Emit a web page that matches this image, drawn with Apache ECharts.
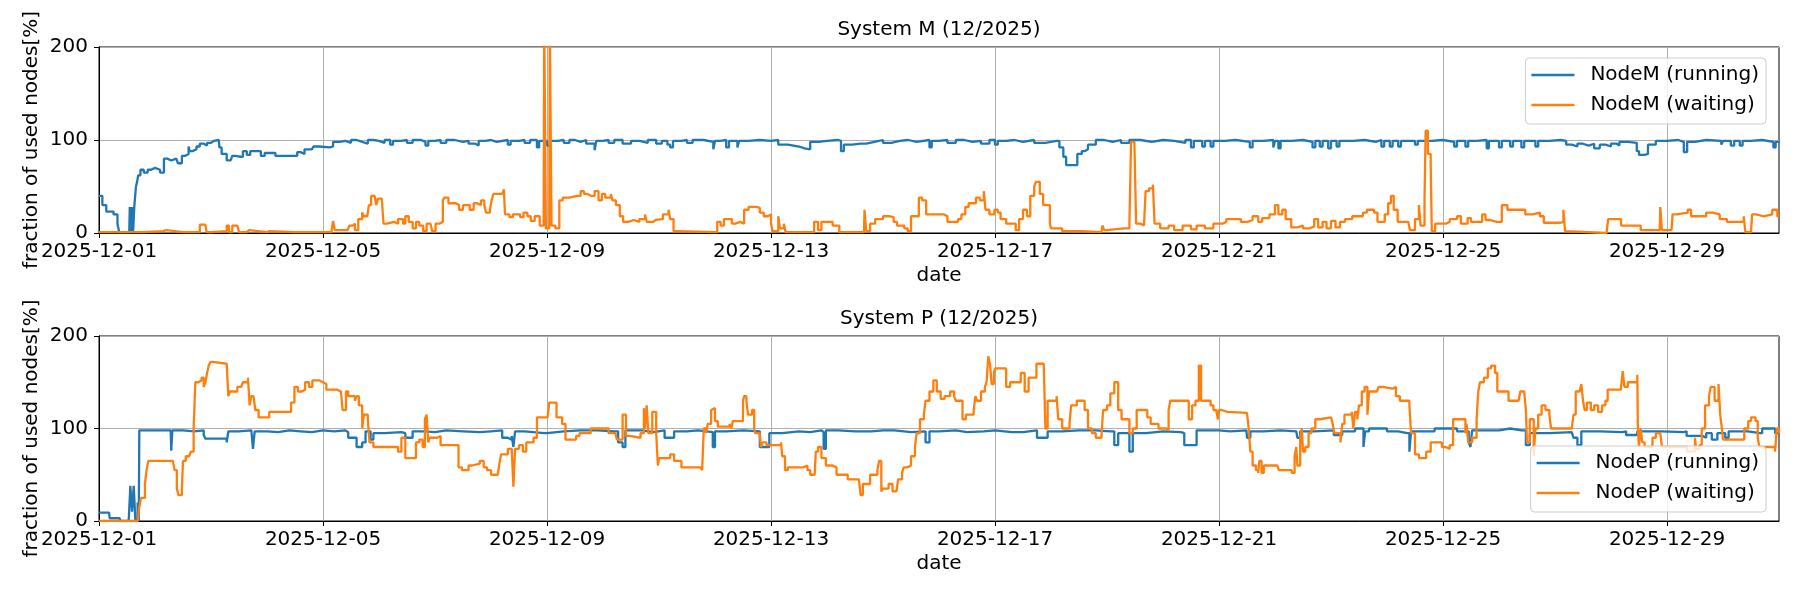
<!DOCTYPE html>
<html>
<head>
<meta charset="utf-8">
<script src="https://cdn.jsdelivr.net/npm/echarts@6/dist/echarts.min.js"></script>
<style>
html,body{margin:0;padding:0;background:#fff;}
#chart{width:1800px;height:600px;}
</style>
</head>
<body>
<div id="chart"></div>
<script>
// x values are days since 2025-12-01 00:00
const tickDays = [0, 4, 8, 12, 16, 20, 24, 28];
const tickLabels = ['2025-12-01','2025-12-05','2025-12-09','2025-12-13','2025-12-17','2025-12-21','2025-12-25','2025-12-29'];
const yTicks = [0, 100, 200];

const titleM = 'System M (12/2025)';
const titleP = 'System P (12/2025)';
const namesM = ['NodeM (running)', 'NodeM (waiting)'];
const namesP = ['NodeP (running)', 'NodeP (waiting)'];

const mRunning = [[0,40],[0.06,30],[0.13,23],[0.22,23],[0.26,20],[0.33,10],[0.36,1],[0.54,1],[0.55,28],[0.57,2],[0.59,28],[0.61,2],[0.63,28],[0.66,50],[0.68,55],[0.7,62],[0.74,68],[0.8,65],[0.87,68],[0.93,70],[1.0,68],[1.09,65],[1.16,80],[1.22,78],[1.29,80],[1.38,80],[1.41,75],[1.48,83],[1.54,85],[1.6,93],[1.62,88],[1.67,90],[1.74,93],[1.8,96],[1.87,94],[1.93,97],[2.0,99],[2.05,100],[2.14,100],[2.15,92],[2.19,85],[2.28,78],[2.35,78],[2.38,83],[2.44,82],[2.51,82],[2.57,88],[2.64,84],[2.7,88],[2.83,88],[2.89,83],[2.96,86],[3.09,86],[3.15,83],[3.47,83],[3.54,87],[3.6,85],[3.67,90],[3.8,90],[3.83,93],[3.93,92],[4.12,93],[4.18,98],[4.3,99],[4.4,97],[4.5,100],[4.6,98],[4.7,96],[4.8,100],[4.9,99],[5.0,97],[5.1,100],[5.2,95],[5.25,99],[5.4,100],[5.5,97],[5.6,100],[5.75,98],[5.83,94],[5.88,99],[6.0,100],[6.1,97],[6.2,100],[6.35,98],[6.5,99],[6.6,96],[6.72,94],[6.78,99],[6.9,100],[7.0,98],[7.1,100],[7.3,95],[7.35,99],[7.5,100],[7.6,97],[7.7,100],[7.82,92],[7.86,99],[8.0,94],[8.05,99],[8.2,100],[8.3,97],[8.4,100],[8.5,98],[8.6,100],[8.7,96],[8.85,89],[8.88,99],[9.0,100],[9.1,97],[9.2,100],[9.35,96],[9.5,99],[9.65,97],[9.8,100],[9.95,96],[10.05,99],[10.15,95],[10.2,92],[10.25,99],[10.4,100],[10.5,97],[10.6,100],[10.8,98],[10.97,90],[11.0,99],[11.1,100],[11.2,92],[11.25,99],[11.4,92],[11.43,99],[11.6,100],[11.8,99],[12.0,100],[12.13,95],[12.3,93],[12.5,91],[12.6,90],[12.7,98],[12.85,99],[13.0,100],[13.2,99],[13.25,88],[13.3,95],[13.45,96],[13.6,96],[13.7,98],[13.85,100],[14.0,97],[14.15,99],[14.3,100],[14.45,98],[14.6,100],[14.83,92],[14.87,99],[15.0,100],[15.15,97],[15.3,100],[15.45,98],[15.6,99],[15.75,96],[15.9,100],[16.0,95],[16.05,99],[16.2,100],[16.35,98],[16.5,100],[16.7,97],[16.9,99],[17.1,99],[17.15,92],[17.22,82],[17.27,73],[17.4,73],[17.47,85],[17.55,88],[17.6,90],[17.66,95],[17.8,100],[17.95,98],[18.1,100],[18.25,97],[18.4,100],[18.6,98],[18.8,100],[19.0,99],[19.2,97],[19.4,100],[19.5,92],[19.55,99],[19.7,93],[19.75,99],[19.85,93],[19.9,99],[20.1,100],[20.3,98],[20.55,92],[20.6,99],[20.8,100],[20.97,92],[21.0,99],[21.06,91],[21.1,99],[21.3,100],[21.5,98],[21.67,92],[21.72,99],[21.8,93],[21.85,99],[21.95,91],[22.0,99],[22.1,93],[22.15,99],[22.4,100],[22.6,98],[22.8,100],[22.9,93],[22.95,99],[23.05,93],[23.1,99],[23.2,93],[23.25,99],[23.5,95],[23.55,99],[23.8,100],[24.0,98],[24.2,93],[24.25,99],[24.4,93],[24.45,99],[24.6,100],[24.78,91],[24.82,99],[25.0,92],[25.05,99],[25.2,93],[25.25,99],[25.4,92],[25.45,99],[25.65,93],[25.7,99],[25.9,100],[26.1,99],[26.2,95],[26.3,93],[26.4,96],[26.5,94],[26.6,96],[26.7,91],[26.8,95],[26.9,93],[27.0,96],[27.1,94],[27.15,98],[27.3,97],[27.46,88],[27.5,84],[27.6,85],[27.66,95],[27.8,99],[28.0,100],[28.2,98],[28.3,87],[28.36,98],[28.5,100],[28.7,99],[28.97,95],[29.0,99],[29.14,94],[29.2,99],[29.3,94],[29.35,99],[29.5,100],[29.7,98],[29.9,92],[29.94,98],[30,99]];

const mWaiting = [[0,1],[0.5,1],[0.8,2],[1.15,1],[1.16,3],[1.2,1],[1.5,1],[1.8,9],[1.9,10],[1.92,1],[2.0,2],[2.28,8],[2.32,1],[2.38,8],[2.47,8],[2.5,1],[2.64,3],[2.68,1],[3.0,2],[3.05,1],[3.5,1],[4.15,1],[4.18,13],[4.21,3],[4.44,3],[4.47,8],[4.53,10],[4.57,3],[4.63,15],[4.7,22],[4.73,18],[4.79,18],[4.82,30],[4.86,40],[4.92,38],[4.95,30],[4.98,37],[5.05,37],[5.08,10],[5.14,12],[5.27,10],[5.34,15],[5.43,10],[5.47,18],[5.53,12],[5.6,5],[5.66,12],[5.72,8],[5.79,2],[5.85,10],[5.92,8],[5.95,2],[6.01,10],[6.08,12],[6.14,35],[6.17,38],[6.24,32],[6.37,30],[6.43,25],[6.5,30],[6.62,25],[6.69,32],[6.75,30],[6.82,35],[6.88,30],[6.91,22],[6.98,25],[7.01,35],[7.04,42],[7.2,42],[7.23,47],[7.25,20],[7.33,17],[7.39,20],[7.52,17],[7.58,22],[7.65,18],[7.71,13],[7.78,18],[7.87,8],[7.94,10],[7.95,230],[7.97,230],[7.98,5],[8.04,5],[8.05,230],[8.07,230],[8.08,8],[8.15,5],[8.22,35],[8.28,38],[8.4,40],[8.54,40],[8.6,45],[8.66,42],[8.72,40],[8.79,40],[8.85,45],[8.92,35],[8.98,42],[9.04,38],[9.14,42],[9.17,35],[9.23,30],[9.3,18],[9.36,12],[9.45,14],[9.55,12],[9.65,15],[9.75,20],[9.78,12],[9.9,14],[9.94,15],[10.07,20],[10.17,25],[10.2,15],[10.26,2],[10.33,1],[11.0,1],[11.04,12],[11.1,8],[11.16,15],[11.23,15],[11.3,10],[11.36,12],[11.45,10],[11.52,25],[11.6,28],[11.74,27],[11.8,22],[11.87,18],[11.94,20],[12.0,10],[12.03,2],[12.13,18],[12.16,5],[12.23,10],[12.26,1],[12.7,1],[12.77,12],[12.84,3],[12.9,12],[13.03,12],[13.1,8],[13.16,8],[13.22,1],[13.66,1],[13.67,25],[13.7,2],[13.77,10],[13.86,15],[14.0,18],[14.12,17],[14.19,12],[14.25,8],[14.38,5],[14.44,2],[14.5,18],[14.57,18],[14.64,38],[14.7,35],[14.77,20],[14.9,20],[15.09,18],[15.15,12],[15.28,12],[15.34,15],[15.4,20],[15.47,28],[15.53,32],[15.6,32],[15.66,38],[15.73,35],[15.8,45],[15.83,25],[15.9,20],[15.99,25],[16.05,22],[16.1,15],[16.2,10],[16.3,10],[16.37,3],[16.43,15],[16.5,25],[16.57,18],[16.63,40],[16.7,50],[16.73,55],[16.8,42],[16.86,30],[16.93,30],[16.98,10],[17.0,5],[17.2,2],[17.55,1],[17.9,1],[17.92,8],[17.95,3],[18.0,5],[18.3,5],[18.4,10],[18.43,98],[18.49,95],[18.52,10],[18.6,8],[18.66,8],[18.69,45],[18.75,48],[18.82,52],[18.85,10],[18.95,5],[19.1,8],[19.2,3],[19.35,8],[19.5,4],[19.6,8],[19.75,5],[19.9,10],[20.06,12],[20.13,15],[20.32,15],[20.39,12],[20.51,14],[20.6,18],[20.7,12],[20.77,16],[20.9,20],[21.0,30],[21.06,20],[21.13,25],[21.19,15],[21.29,6],[21.4,8],[21.5,5],[21.61,7],[21.7,15],[21.77,6],[21.85,12],[21.92,5],[22.0,13],[22.08,6],[22.16,12],[22.25,15],[22.38,18],[22.5,18],[22.57,22],[22.64,25],[22.77,22],[22.83,12],[22.96,20],[23.02,32],[23.07,40],[23.12,25],[23.19,12],[23.38,12],[23.41,3],[23.5,15],[23.57,30],[23.6,8],[23.67,35],[23.69,110],[23.73,85],[23.78,75],[23.8,2],[23.86,10],[24.05,12],[24.12,15],[24.25,18],[24.32,10],[24.44,16],[24.5,12],[24.7,20],[24.76,14],[24.83,12],[24.96,12],[25.05,30],[25.15,25],[25.4,25],[25.47,20],[25.6,22],[25.73,18],[25.8,11],[26.1,12],[26.15,25],[26.18,2],[26.21,0],[26.92,0],[26.95,15],[27.14,15],[27.18,8],[27.46,8],[27.53,3],[27.87,3],[27.88,28],[27.91,3],[28.08,3],[28.1,20],[28.17,22],[28.37,25],[28.43,18],[28.56,18],[28.7,22],[28.81,20],[28.94,15],[29.07,12],[29.33,12],[29.37,18],[29.4,1],[29.5,1],[29.52,20],[29.59,18],[29.72,20],[29.88,25],[29.97,18],[30,18]];

const pRunning = [[0,9],[0.18,9],[0.19,3],[0.37,3],[0.38,0],[0.53,0],[0.56,38],[0.59,10],[0.62,38],[0.65,0],[0.69,20],[0.71,0],[0.72,98],[1.0,98],[1.28,97],[1.29,76],[1.31,98],[1.5,97],[1.7,98],[1.87,93],[1.9,89],[2.2,89],[2.28,85],[2.31,97],[2.5,98],[2.72,96],[2.75,78],[2.78,97],[3.0,96],[3.2,98],[3.4,97],[3.6,96],[3.8,98],[4.0,97],[4.2,98],[4.4,96],[4.45,90],[4.6,80],[4.7,85],[4.76,97],[4.85,88],[4.9,95],[5.1,96],[5.4,95],[5.47,90],[5.6,97],[5.8,96],[6.0,98],[6.2,97],[6.5,96],[6.8,97],[7.0,98],[7.2,90],[7.3,88],[7.37,92],[7.4,80],[7.43,97],[7.6,95],[7.95,95],[8.0,97],[8.3,98],[8.6,98],[8.9,97],[9.2,97],[9.27,85],[9.35,80],[9.4,98],[9.7,96],[9.9,98],[10.1,90],[10.2,90],[10.27,97],[10.5,98],[10.7,96],[10.96,80],[11.0,97],[11.2,98],[11.5,97],[11.8,80],[11.9,80],[11.97,95],[12.2,97],[12.5,96],[12.7,98],[12.9,96],[12.94,78],[12.98,98],[13.2,97],[13.5,97],[13.8,98],[14.0,98],[14.2,96],[14.5,97],[14.76,85],[14.83,97],[15.0,98],[15.3,96],[15.5,97],[15.8,98],[16.0,96],[16.3,96],[16.5,98],[16.75,90],[16.88,90],[16.94,97],[17.2,98],[17.5,98],[17.8,97],[18.06,97],[18.13,82],[18.2,95],[18.4,75],[18.46,95],[18.7,97],[19.0,96],[19.32,95],[19.38,82],[19.52,82],[19.6,98],[19.8,98],[20.0,97],[20.2,98],[20.49,97],[20.5,90],[20.56,97],[20.8,98],[21.1,97],[21.38,97],[21.4,90],[21.45,97],[21.7,98],[22.05,93],[22.13,93],[22.2,97],[22.43,100],[22.58,80],[22.61,97],[22.68,100],[22.95,100],[23.0,97],[23.2,95],[23.36,95],[23.4,75],[23.43,97],[23.77,97],[23.85,100],[24.2,100],[24.25,97],[24.4,97],[24.46,85],[24.49,80],[24.52,98],[25.0,100],[25.2,98],[25.4,98],[25.48,82],[25.55,95],[25.9,96],[26.3,95],[26.33,90],[26.4,82],[26.47,97],[26.8,96],[27.2,97],[27.27,93],[27.4,93],[27.47,97],[27.9,96],[28.3,97],[28.35,92],[28.56,92],[28.63,90],[28.7,95],[28.8,88],[28.9,95],[29.04,90],[29.1,97],[29.38,97],[29.45,95],[29.66,95],[29.7,100],[29.86,100],[29.93,95],[30,95]];

const pWaiting = [[0,0],[0.69,0],[0.72,15],[0.75,25],[0.82,40],[0.85,55],[0.88,65],[1.32,65],[1.35,55],[1.39,35],[1.42,28],[1.45,28],[1.48,35],[1.5,65],[1.55,70],[1.61,70],[1.64,75],[1.67,75],[1.69,100],[1.72,150],[1.77,152],[1.83,155],[1.87,145],[1.9,150],[1.93,160],[1.96,168],[1.99,172],[2.03,170],[2.28,170],[2.31,135],[2.34,140],[2.4,140],[2.47,145],[2.54,145],[2.57,150],[2.66,155],[2.69,125],[2.72,135],[2.76,135],[2.79,120],[2.85,112],[2.98,112],[3.04,118],[3.36,118],[3.43,128],[3.49,145],[3.55,140],[3.62,142],[3.68,150],[3.75,145],[3.81,152],[3.94,150],[4.0,148],[4.06,142],[4.25,140],[4.32,140],[4.35,120],[4.41,140],[4.45,135],[4.57,130],[4.6,135],[4.64,125],[4.7,100],[4.73,115],[4.8,110],[4.83,85],[4.9,80],[5.27,80],[5.34,75],[5.4,90],[5.47,68],[5.6,68],[5.66,85],[5.72,88],[5.78,80],[5.82,110],[5.85,115],[5.88,85],[5.9,90],[6.04,92],[6.1,82],[6.36,82],[6.42,58],[6.48,55],[6.6,60],[6.66,62],[6.8,65],[6.87,58],[6.93,55],[7.0,50],[7.12,50],[7.15,62],[7.18,72],[7.3,78],[7.37,80],[7.4,37],[7.43,78],[7.5,82],[7.57,75],[7.63,85],[7.76,90],[7.82,112],[8.01,112],[8.04,128],[8.13,128],[8.17,112],[8.27,105],[8.33,88],[8.4,88],[8.52,92],[8.58,95],[8.71,95],[8.78,100],[9.03,100],[9.1,95],[9.22,95],[9.25,88],[9.35,115],[9.41,92],[9.47,90],[9.67,95],[9.73,122],[9.75,100],[9.78,125],[9.81,95],[9.88,118],[9.91,118],[9.95,95],[9.98,60],[10.0,68],[10.2,72],[10.27,65],[10.34,65],[10.4,58],[10.74,60],[10.77,55],[10.8,100],[10.84,95],[10.87,105],[10.93,120],[10.96,122],[11.0,108],[11.05,102],[11.26,105],[11.29,100],[11.32,108],[11.46,108],[11.5,130],[11.52,135],[11.56,130],[11.59,115],[11.66,120],[11.7,100],[11.72,95],[11.8,95],[11.82,80],[11.85,85],[11.92,82],[12.18,85],[12.2,70],[12.25,55],[12.3,58],[12.58,60],[12.65,55],[12.7,50],[12.78,50],[12.8,75],[12.84,80],[12.9,68],[12.98,60],[13.1,58],[13.17,50],[13.3,50],[13.37,45],[13.57,45],[13.6,28],[13.64,40],[13.7,40],[13.77,50],[13.9,55],[13.93,65],[13.97,32],[14.0,35],[14.1,40],[14.17,32],[14.24,32],[14.27,45],[14.34,52],[14.37,58],[14.43,60],[14.5,70],[14.57,80],[14.6,95],[14.66,110],[14.73,115],[14.76,130],[14.83,140],[14.9,152],[14.96,140],[15.03,132],[15.1,135],[15.2,140],[15.27,135],[15.3,130],[15.36,130],[15.42,110],[15.48,115],[15.62,120],[15.65,135],[15.68,130],[15.75,140],[15.82,145],[15.85,150],[15.88,178],[15.91,170],[15.94,148],[15.98,160],[16.0,165],[16.14,165],[16.2,145],[16.27,150],[16.4,150],[16.46,160],[16.53,140],[16.6,155],[16.67,155],[16.74,170],[16.87,172],[16.9,100],[16.94,130],[17.0,130],[17.1,135],[17.13,110],[17.2,100],[17.33,105],[17.36,125],[17.46,130],[17.56,130],[17.6,120],[17.66,100],[17.73,95],[17.8,90],[17.9,90],[17.93,120],[18.0,125],[18.06,138],[18.13,150],[18.2,120],[18.26,110],[18.33,110],[18.4,95],[18.46,100],[18.53,120],[18.66,120],[18.72,112],[18.78,105],[18.88,105],[18.92,100],[19.06,98],[19.1,120],[19.13,130],[19.4,130],[19.46,110],[19.52,125],[19.58,130],[19.64,168],[19.68,130],[19.72,130],[19.8,130],[19.85,125],[19.9,120],[19.95,122],[19.98,110],[20.0,120],[20.05,118],[20.15,118],[20.18,117],[20.5,117],[20.53,100],[20.56,75],[20.6,60],[20.63,60],[20.66,55],[20.7,52],[20.72,65],[20.76,52],[20.8,60],[21.04,60],[21.07,55],[21.24,55],[21.3,52],[21.35,70],[21.38,80],[21.4,60],[21.45,90],[21.48,100],[21.5,75],[21.54,80],[21.6,95],[21.65,100],[21.72,110],[21.8,112],[22.0,112],[22.03,105],[22.06,95],[22.13,95],[22.17,85],[22.2,105],[22.24,115],[22.37,118],[22.4,100],[22.43,118],[22.47,110],[22.5,125],[22.55,140],[22.6,145],[22.65,115],[22.68,140],[22.82,140],[22.85,145],[22.88,145],[22.92,143],[23.1,145],[23.16,135],[23.23,130],[23.36,130],[23.4,125],[23.43,95],[23.5,72],[23.57,68],[23.64,68],[23.7,75],[23.78,85],[23.9,85],[23.98,80],[24.05,78],[24.12,82],[24.18,110],[24.3,110],[24.4,95],[24.42,105],[24.45,85],[24.52,90],[24.6,110],[24.63,140],[24.66,150],[24.73,155],[24.8,165],[24.86,168],[24.93,160],[24.97,140],[25.13,140],[25.17,130],[25.35,130],[25.38,140],[25.45,140],[25.48,120],[25.5,85],[25.55,110],[25.62,70],[25.65,100],[25.7,115],[25.76,125],[25.83,120],[25.9,115],[25.93,100],[26.3,100],[26.33,115],[26.37,140],[26.44,140],[26.47,148],[26.5,130],[26.53,120],[26.57,128],[26.64,120],[26.7,125],[26.77,118],[26.84,125],[26.9,130],[26.94,142],[27.18,145],[27.21,162],[27.24,145],[27.3,150],[27.47,158],[27.48,100],[27.5,80],[27.53,100],[27.56,85],[27.6,80],[27.67,80],[27.74,90],[27.8,95],[27.88,95],[27.91,80],[28.29,80],[28.36,75],[28.5,90],[28.52,78],[28.58,82],[28.62,100],[28.68,125],[28.75,135],[28.78,145],[28.85,130],[28.92,148],[28.95,115],[28.98,100],[29.0,88],[29.3,88],[29.38,100],[29.45,108],[29.5,112],[29.58,108],[29.62,90],[29.65,80],[29.86,80],[29.93,75],[29.96,100],[30,95]];

const BLUE = '#1f77b4', ORANGE = '#ff7f0e';
const FONT = 'DejaVu Sans';

function dayLabel(v) {
  const i = tickDays.indexOf(Math.round(v * 1000) / 1000);
  return i >= 0 ? tickLabels[i] : '';
}

function xAxisFor(gi) {
  return {
    type: 'value', gridIndex: gi, min: 0, max: 30, interval: 4,
    name: 'date', nameLocation: 'middle', nameGap: 33, nameMoveOverlap: false,
    nameTextStyle: { fontFamily: FONT, fontSize: 20, color: '#000' },
    axisLine: { show: true, lineStyle: { color: '#000', width: 1 } },
    axisTick: { show: true, length: 5, inside: false, customValues: tickDays, lineStyle: { color: '#000', width: 1 } },
    axisLabel: { show: true, margin: 9, customValues: tickDays, formatter: dayLabel,
      fontFamily: FONT, fontSize: 20, color: '#000' },
    splitLine: { show: true, lineStyle: { color: '#b0b0b0', width: 1 } }
  };
}
function yAxisFor(gi) {
  return {
    type: 'value', gridIndex: gi, min: yTicks[0], max: yTicks[yTicks.length - 1], interval: 100,
    name: 'fraction of used nodes[%]', nameLocation: 'middle', nameGap: 57, nameMoveOverlap: false,
    nameTextStyle: { fontFamily: FONT, fontSize: 20, color: '#000' },
    axisLine: { show: true, lineStyle: { color: '#000', width: 1 } },
    axisTick: { show: true, length: 5, inside: false, lineStyle: { color: '#000', width: 1 } },
    axisLabel: { show: true, margin: 11, fontFamily: FONT, fontSize: 20, color: '#000' },
    splitLine: { show: true, lineStyle: { color: '#b0b0b0', width: 1 } }
  };
}
function legendFor(names, top) {
  return {
    orient: 'vertical', right: 34, top: top, data: names,
    icon: 'rect', itemWidth: 43, itemHeight: 2.3, itemGap: 10,
    padding: [7, 7, 9, 6],
    backgroundColor: 'rgba(255,255,255,0.8)', borderColor: '#cccccc', borderWidth: 1, borderRadius: 4,
    textStyle: { fontFamily: FONT, fontSize: 20, color: '#000', padding: [0, 0, 0, 11], lineHeight: 20 },
    selectedMode: false
  };
}
function lineSeries(name, data, color, xi) {
  return {
    type: 'line', name: name, data: data, xAxisIndex: xi, yAxisIndex: xi,
    showSymbol: false, symbol: 'none', animation: false, step: 'end',
    lineStyle: { color: color, width: 2.3 }, itemStyle: { color: color },
    clip: true
  };
}

const chart = echarts.init(document.getElementById('chart'), null, { renderer: 'canvas' });
chart.setOption({
  backgroundColor: '#fff',
  animation: false,
  title: [
    { text: titleM, left: 939, top: 20, textAlign: 'center', padding: 0,
      textStyle: { fontFamily: FONT, fontSize: 20, fontWeight: 'normal', color: '#000' } },
    { text: titleP, left: 939, top: 309, textAlign: 'center', padding: 0,
      textStyle: { fontFamily: FONT, fontSize: 20, fontWeight: 'normal', color: '#000' } }
  ],
  legend: [legendFor(namesM, 58), legendFor(namesP, 446)],
  grid: [
    { left: 99, right: 21, top: 47, height: 186, show: true, borderColor: '#000', borderWidth: 1, backgroundColor: 'transparent', outerBoundsMode: 'none' },
    { left: 99, right: 21, top: 336, height: 185, show: true, borderColor: '#000', borderWidth: 1, backgroundColor: 'transparent', outerBoundsMode: 'none' }
  ],
  xAxis: [xAxisFor(0), xAxisFor(1)],
  yAxis: [yAxisFor(0), yAxisFor(1)],
  series: [
    lineSeries(namesM[0], mRunning, BLUE, 0),
    lineSeries(namesM[1], mWaiting, ORANGE, 0),
    lineSeries(namesP[0], pRunning, BLUE, 1),
    lineSeries(namesP[1], pWaiting, ORANGE, 1)
  ]
});
</script>
</body>
</html>
